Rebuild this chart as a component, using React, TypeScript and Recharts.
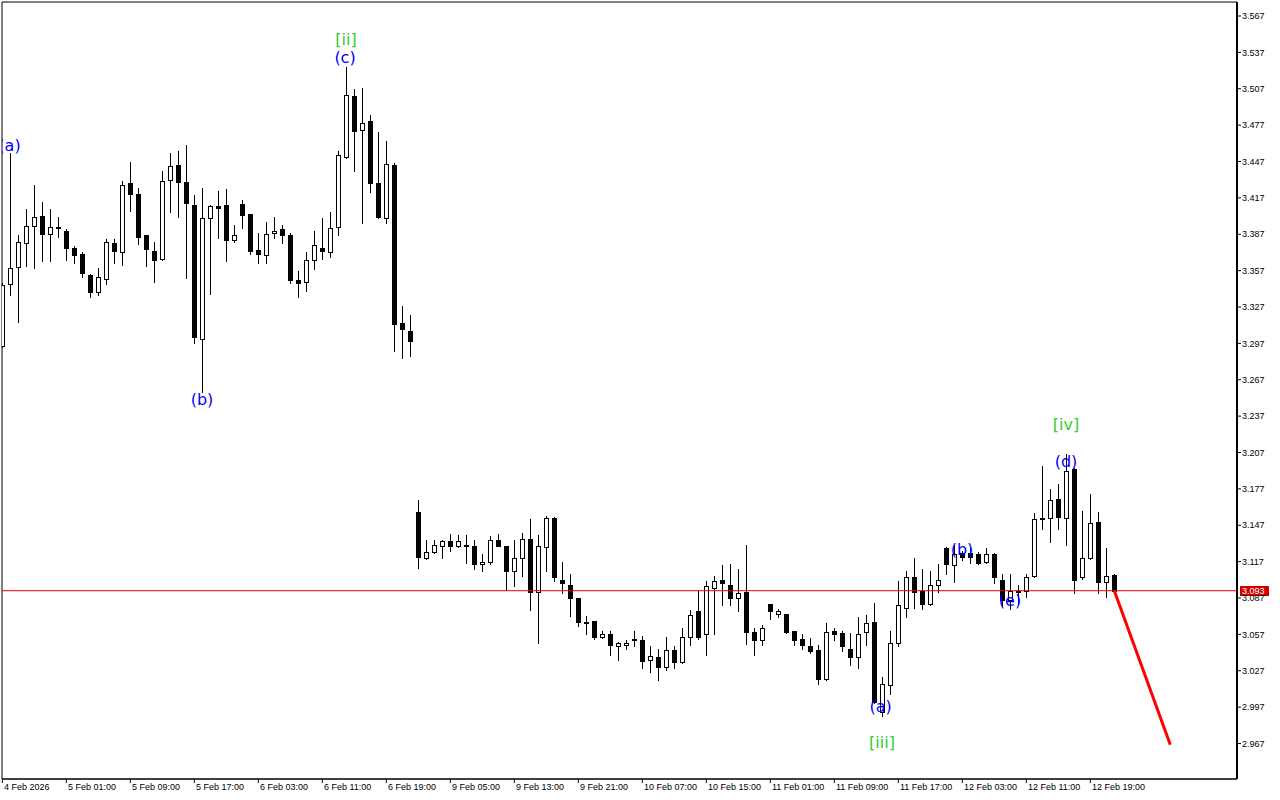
import React from 'react';
import { ComposedChart, Bar, Line, Scatter, XAxis, YAxis, ReferenceLine, ReferenceArea } from 'recharts';

// hourly candles, 4 Feb 17:00 .. 12 Feb 20:00
const opens = [
  3.295, 3.346, 3.360, 3.380, 3.394, 3.402, 3.387, 3.393, 3.390, 3.376,
  3.371, 3.353, 3.339, 3.350, 3.380, 3.372, 3.429, 3.420, 3.386, 3.373,
  3.367, 3.432, 3.444, 3.430, 3.411, 3.301, 3.400, 3.410, 3.411, 3.382,
  3.412, 3.404, 3.374, 3.370, 3.388, 3.391, 3.386, 3.349, 3.348, 3.366,
  3.376, 3.372, 3.393, 3.451, 3.501, 3.473, 3.480, 3.429, 3.400, 3.444,
  3.314, 3.307, 3.158, 3.120, 3.125, 3.130, 3.134, 3.130, 3.131, 3.130,
  3.115, 3.117, 3.135, 3.130, 3.109, 3.120, 3.136, 3.092, 3.129, 3.153,
  3.102, 3.098, 3.087, 3.067, 3.068, 3.055, 3.057, 3.047, 3.048, 3.053,
  3.052, 3.036, 3.038, 3.030, 3.044, 3.034, 3.055, 3.076, 3.057, 3.095,
  3.102, 3.098, 3.087, 3.092, 3.059, 3.052, 3.082, 3.074, 3.074, 3.060,
  3.053, 3.047, 3.044, 3.020, 3.060, 3.058, 3.045, 3.038, 3.059, 3.067,
  2.993, 3.015, 3.050, 3.079, 3.104, 3.093, 3.082, 3.098, 3.128, 3.114,
  3.124, 3.124, 3.123, 3.117, 3.123, 3.102, 3.085, 3.093, 3.093, 3.105,
  3.153, 3.153, 3.169, 3.153, 3.193, 3.104, 3.120, 3.150, 3.100, 3.106,
];
const highs = [
  3.347, 3.454, 3.386, 3.408, 3.428, 3.414, 3.408, 3.401, 3.391, 3.377,
  3.372, 3.354, 3.359, 3.383, 3.383, 3.431, 3.447, 3.425, 3.386, 3.381,
  3.439, 3.454, 3.456, 3.461, 3.419, 3.425, 3.411, 3.423, 3.424, 3.395,
  3.415, 3.404, 3.388, 3.397, 3.401, 3.395, 3.388, 3.357, 3.372, 3.390,
  3.400, 3.405, 3.456, 3.525, 3.507, 3.508, 3.485, 3.471, 3.464, 3.446,
  3.328, 3.320, 3.168, 3.135, 3.135, 3.135, 3.140, 3.139, 3.139, 3.135,
  3.123, 3.138, 3.140, 3.130, 3.135, 3.141, 3.152, 3.139, 3.155, 3.154,
  3.117, 3.107, 3.087, 3.072, 3.068, 3.060, 3.060, 3.051, 3.052, 3.060,
  3.056, 3.047, 3.045, 3.055, 3.047, 3.062, 3.077, 3.093, 3.101, 3.105,
  3.114, 3.115, 3.111, 3.131, 3.062, 3.065, 3.082, 3.078, 3.074, 3.060,
  3.057, 3.054, 3.048, 3.066, 3.062, 3.060, 3.058, 3.071, 3.073, 3.083,
  3.022, 3.060, 3.101, 3.109, 3.120, 3.111, 3.109, 3.115, 3.129, 3.131,
  3.126, 3.128, 3.125, 3.128, 3.124, 3.107, 3.107, 3.098, 3.107, 3.157,
  3.196, 3.177, 3.181, 3.206, 3.194, 3.159, 3.173, 3.158, 3.128, 3.107,
];
const lows = [
  3.294, 3.337, 3.315, 3.361, 3.359, 3.365, 3.365, 3.385, 3.366, 3.363,
  3.352, 3.335, 3.337, 3.346, 3.363, 3.362, 3.406, 3.379, 3.361, 3.348,
  3.366, 3.405, 3.401, 3.351, 3.297, 3.257, 3.338, 3.384, 3.365, 3.381,
  3.392, 3.371, 3.363, 3.363, 3.384, 3.380, 3.347, 3.335, 3.340, 3.358,
  3.367, 3.368, 3.386, 3.450, 3.439, 3.396, 3.422, 3.400, 3.396, 3.291,
  3.285, 3.287, 3.112, 3.119, 3.124, 3.120, 3.126, 3.129, 3.116, 3.111,
  3.109, 3.115, 3.130, 3.094, 3.097, 3.105, 3.077, 3.050, 3.109, 3.101,
  3.091, 3.072, 3.064, 3.057, 3.053, 3.054, 3.040, 3.036, 3.045, 3.047,
  3.029, 3.026, 3.019, 3.028, 3.029, 3.033, 3.048, 3.053, 3.040, 3.057,
  3.081, 3.081, 3.076, 3.049, 3.040, 3.048, 3.070, 3.071, 3.058, 3.048,
  3.045, 3.042, 3.016, 3.019, 3.052, 3.043, 3.032, 3.029, 3.048, 3.000,
  2.990, 3.008, 3.047, 3.071, 3.079, 3.078, 3.081, 3.092, 3.107, 3.100,
  3.118, 3.116, 3.115, 3.116, 3.099, 3.080, 3.078, 3.082, 3.088, 3.104,
  3.144, 3.133, 3.144, 3.131, 3.091, 3.103, 3.119, 3.091, 3.088, 3.092,
];
const closes = [
  3.345, 3.359, 3.381, 3.394, 3.401, 3.387, 3.393, 3.392, 3.376, 3.370,
  3.355, 3.339, 3.352, 3.381, 3.373, 3.428, 3.420, 3.385, 3.375, 3.366,
  3.431, 3.443, 3.430, 3.413, 3.302, 3.400, 3.410, 3.409, 3.382, 3.386,
  3.403, 3.373, 3.371, 3.387, 3.390, 3.386, 3.349, 3.347, 3.366, 3.378,
  3.373, 3.392, 3.452, 3.502, 3.472, 3.479, 3.429, 3.401, 3.445, 3.313,
  3.309, 3.299, 3.121, 3.125, 3.131, 3.134, 3.130, 3.134, 3.131, 3.115,
  3.117, 3.135, 3.130, 3.109, 3.120, 3.136, 3.092, 3.130, 3.153, 3.104,
  3.099, 3.087, 3.067, 3.066, 3.055, 3.057, 3.048, 3.050, 3.050, 3.052,
  3.035, 3.039, 3.030, 3.044, 3.034, 3.055, 3.073, 3.055, 3.097, 3.101,
  3.099, 3.087, 3.091, 3.059, 3.052, 3.062, 3.076, 3.076, 3.059, 3.052,
  3.048, 3.043, 3.020, 3.059, 3.057, 3.047, 3.038, 3.057, 3.066, 3.001,
  3.016, 3.050, 3.081, 3.104, 3.092, 3.082, 3.098, 3.102, 3.115, 3.123,
  3.121, 3.121, 3.116, 3.123, 3.104, 3.085, 3.093, 3.092, 3.104, 3.152,
  3.152, 3.168, 3.154, 3.192, 3.102, 3.120, 3.149, 3.100, 3.105, 3.093,
];

const timeLabels = [
  '4 Feb 2026', '5 Feb 01:00', '5 Feb 09:00', '5 Feb 17:00', '6 Feb 03:00', '6 Feb 11:00',
  '6 Feb 19:00', '9 Feb 05:00', '9 Feb 13:00', '9 Feb 21:00', '10 Feb 07:00', '10 Feb 15:00',
  '11 Feb 01:00', '11 Feb 09:00', '11 Feb 17:00', '12 Feb 03:00', '12 Feb 11:00', '12 Feb 19:00',
];
const barsPerLabel = 8;

const priceTicks = [
  3.567, 3.537, 3.507, 3.477, 3.447, 3.417, 3.387, 3.357, 3.327, 3.297, 3.267,
  3.237, 3.207, 3.177, 3.147, 3.117, 3.087, 3.057, 3.027, 2.997, 2.967,
];
const currentPrice = 3.093;

// red projection drawn from the last close
const forecastIdx = [139, 146];
const forecastPrice = [3.093, 2.966];

// elliott wave marks
const waveText = ['(a)', '(b)', '[ii]', '(c)', '(a)', '[iii]', '(b)', '(e)', '[iv]', '(d)'];
const waveIdx = [0.9, 24.96, 42.96, 42.84, 109.8, 109.96, 119.96, 125.96, 132.96, 132.96];
const wavePrice = [3.4606, 3.2511, 3.548, 3.5324, 2.9979, 2.9682, 3.1266, 3.0853, 3.2297, 3.1992];
const waveDegree = ['minor', 'minor', 'major', 'minor', 'minor', 'major', 'minor', 'minor', 'major', 'minor'];

const X_DOMAIN: [number, number] = [-0.0375, 154.3375];
const Y_DOMAIN: [number, number] = [2.93772, 3.57855];
const AXIS_FONT = '"Liberation Sans", Arial, sans-serif';

const candles = opens.map((o, i) => ({ i, open: o, high: highs[i], low: lows[i], close: closes[i] }));
const forecast = forecastIdx.map((i, k) => ({ i, p: forecastPrice[k] }));
const waves = waveText.map((t, k) => ({
  i: waveIdx[k],
  p: wavePrice[k],
  text: t,
  color: waveDegree[k] === 'major' ? '#32cd32' : '#0000ff',
}));
const timeTicks = timeLabels.map((_, k) => k * barsPerLabel);

const Candle = (props: any) => {
  const { x, y, width, height, payload } = props;
  if (!payload || x == null || y == null) return null;
  const top = Math.min(y, y + height);
  const h = Math.abs(height);
  const { open, close, high, low } = payload;
  const span = high - low || 1;
  const py = (v: number) => top + ((high - v) / span) * h;
  const col = Math.floor(x + width / 2);
  const bTop = Math.round(py(Math.max(open, close)));
  const bBot = Math.round(py(Math.min(open, close)));
  const up = close >= open;
  return (
    <g>
      <line x1={col + 0.5} x2={col + 0.5} y1={Math.round(top)} y2={Math.round(top + h) + 1} stroke="#000" strokeWidth={1} />
      {up ? (
        <rect x={col - 1.5} y={bTop + 0.5} width={4} height={Math.max(bBot - bTop, 1)} fill="#fff" stroke="#000" strokeWidth={1} />
      ) : (
        <rect x={col - 2} y={bTop} width={5} height={Math.max(bBot - bTop + 1, 2)} fill="#000" />
      )}
    </g>
  );
};

const TimeTick = (props: any) => {
  const { x, y, payload } = props;
  const label = timeLabels[Math.round(payload.value / barsPerLabel)];
  return (
    <text x={Math.floor(x) + 2} y={y} dy="0.71em" textAnchor="start" fontSize={9} fontFamily={AXIS_FONT} fill="#000">
      {label}
    </text>
  );
};

const PriceTick = (props: any) => {
  const { x, y, payload } = props;
  return (
    <text x={x} y={y} dy="0.355em" textAnchor="start" fontSize={9} fontFamily={AXIS_FONT} fill="#000">
      {Number(payload.value).toFixed(3)}
    </text>
  );
};

const PriceTag = (props: any) => {
  const vb = props.viewBox || {};
  const x = vb.x + vb.width + 3;
  const y = Math.round(vb.y);
  return (
    <g>
      <rect x={x} y={y - 5} width={29} height={10} fill="#d00000" />
      <text x={x + 2} y={y} dy="0.355em" fontSize={9} fontFamily={AXIS_FONT} fill="#fff">
        {currentPrice.toFixed(3)}
      </text>
    </g>
  );
};

const WaveMark = (props: any) => {
  const { cx, cy, payload } = props;
  return (
    <text x={cx} y={cy} textAnchor="middle" dominantBaseline="central" fontSize={16}
      fontFamily='"DejaVu Sans", sans-serif' fill={payload.color}>
      {payload.text}
    </text>
  );
};

const App: React.FC = () => {
  return (
    <div style={{ position: 'absolute', left: 0, top: 0, width: 1280, height: 800, background: '#fff' }}>
      <ComposedChart width={1280} height={800} data={candles} margin={{ top: 2, right: 0, left: 2, bottom: 0 }}>
        <XAxis
          dataKey="i"
          type="number"
          domain={X_DOMAIN}
          allowDataOverflow
          ticks={timeTicks}
          tick={<TimeTick />}
          height={21}
          tickSize={4}
          tickMargin={1}
          interval={0}
          axisLine={{ stroke: '#000', strokeWidth: 1 }}
          tickLine={{ stroke: '#000' }}
        />
        <YAxis
          orientation="right"
          type="number"
          domain={Y_DOMAIN}
          allowDataOverflow
          ticks={priceTicks}
          tick={<PriceTick />}
          width={43}
          tickSize={4}
          tickMargin={1}
          interval={0}
          axisLine={{ stroke: '#000', strokeWidth: 2 }}
          tickLine={{ stroke: '#000' }}
        />
        <ReferenceArea x1={X_DOMAIN[0]} x2={X_DOMAIN[1]} y1={Y_DOMAIN[0]} y2={Y_DOMAIN[1]} fill="none" stroke="#000" strokeWidth={1} fillOpacity={0} />
        <ReferenceLine y={currentPrice} stroke="#e00000" strokeWidth={1} label={<PriceTag />} />
        <Bar dataKey={(d: any) => [d.low, d.high]} barSize={5} shape={<Candle />} isAnimationActive={false} />
        <Line data={forecast} dataKey="p" stroke="#ff0000" strokeWidth={3} dot={false} isAnimationActive={false} />
        <Scatter data={waves} dataKey="p" shape={<WaveMark />} isAnimationActive={false} />
      </ComposedChart>
    </div>
  );
};

export default App;
